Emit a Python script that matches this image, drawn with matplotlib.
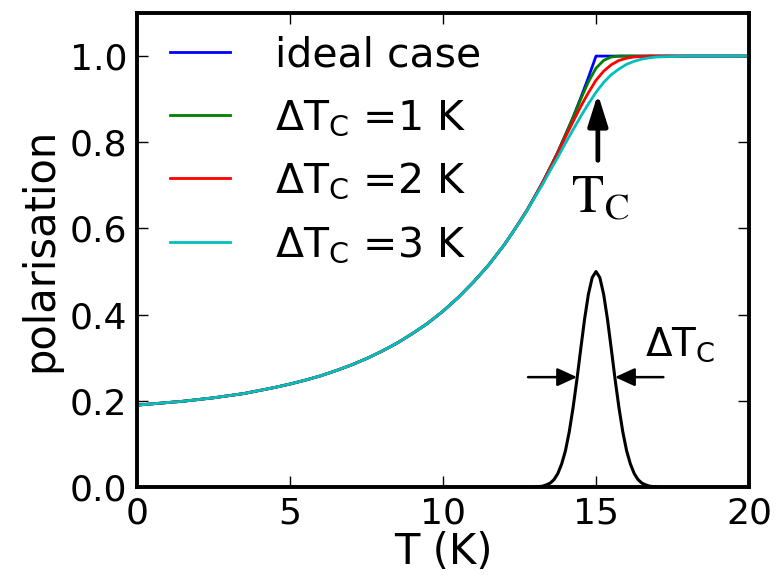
import matplotlib
matplotlib.use('Agg')
import matplotlib.pyplot as plt

# temperature grid (K), finer around the transition
temps = [0, 0.5, 1, 1.5, 2, 2.5, 3, 3.5, 4, 4.5, 5, 5.5, 6, 6.5, 7, 7.5,
         8, 8.5, 9, 9.5, 10, 10.5, 11, 11.5,
         12, 12.25, 12.5, 12.75, 13, 13.25, 13.5, 13.75, 14, 14.25, 14.5,
         14.75, 15, 15.25, 15.5, 15.75, 16, 16.25, 16.5, 16.75, 17,
         17.5, 18, 18.5, 19, 19.5, 20]

low_part = [0.190, 0.193, 0.196, 0.199, 0.203, 0.207, 0.212, 0.217, 0.224,
            0.231, 0.239, 0.248, 0.258, 0.270, 0.283, 0.298, 0.315, 0.334,
            0.356, 0.380, 0.408, 0.440, 0.476, 0.516]

pol_ideal = low_part + [0.562, 0.588, 0.615, 0.643, 0.674, 0.706, 0.741,
                        0.777, 0.817, 0.858, 0.903, 0.950, 1.0, 1.0, 1.0,
                        1.0, 1.0, 1.0, 1.0, 1.0, 1.0] + [1.0] * 6
pol_dt1 = low_part + [0.562, 0.588, 0.615, 0.643, 0.674, 0.706, 0.741,
                      0.777, 0.817, 0.857, 0.900, 0.940, 0.972, 0.990, 0.998,
                      1.0, 1.0, 1.0, 1.0, 1.0, 1.0] + [1.0] * 6
pol_dt2 = low_part + [0.562, 0.588, 0.615, 0.643, 0.674, 0.706, 0.740,
                      0.775, 0.812, 0.848, 0.883, 0.915, 0.944, 0.965, 0.980,
                      0.990, 0.995, 0.998, 0.999, 1.0, 1.0] + [1.0] * 6
pol_dt3 = low_part + [0.562, 0.588, 0.614, 0.642, 0.672, 0.702, 0.734,
                      0.765, 0.798, 0.829, 0.860, 0.889, 0.916, 0.939, 0.957,
                      0.970, 0.981, 0.988, 0.993, 0.996, 0.998] + \
          [0.999, 1.0, 1.0, 1.0, 1.0, 1.0]

series = [pol_ideal, pol_dt1, pol_dt2, pol_dt3]
labels = ['ideal case', r'$\Delta$T$_C$ =1 K', r'$\Delta$T$_C$ =2 K',
          r'$\Delta$T$_C$ =3 K']
colors = ['#0000ff', '#008000', '#ff0000', '#00bfbf']

# sketch of the Tc distribution
gauss_t = [13.0, 13.125, 13.25, 13.375, 13.5, 13.625, 13.75, 13.875, 14.0,
           14.125, 14.25, 14.375, 14.5, 14.625, 14.75, 14.875, 15.0,
           15.125, 15.25, 15.375, 15.5, 15.625, 15.75, 15.875, 16.0,
           16.125, 16.25, 16.375, 16.5, 16.625, 16.75, 16.875, 17.0]
gauss_p = [0.000, 0.001, 0.002, 0.005, 0.009, 0.017, 0.031, 0.053, 0.084,
           0.128, 0.184, 0.249, 0.320, 0.389, 0.447, 0.486, 0.500,
           0.486, 0.447, 0.389, 0.320, 0.249, 0.184, 0.128, 0.084,
           0.053, 0.031, 0.017, 0.009, 0.005, 0.002, 0.001, 0.000]

plt.rcParams['font.family'] = 'DejaVu Sans'
plt.rcParams['mathtext.default'] = 'regular'
plt.rcParams['font.size'] = 26

fig = plt.figure(figsize=(7.8, 5.75), dpi=100)
ax = fig.add_axes([0.1756, 0.153, 0.7847, 0.8244])

for ys, lab, col in zip(series, labels, colors):
    ax.plot(temps, ys, color=col, lw=2.0, label=lab)

ax.plot(gauss_t, gauss_p, color='k', lw=2.2)

# width arrows on the distribution
arrow_kw = dict(arrowstyle='-|>,head_length=1.2,head_width=0.55',
                color='k', lw=1.8, shrinkA=0, shrinkB=0, mutation_scale=10)
ax.annotate('', xy=(14.38, 0.255), xytext=(12.78, 0.255), arrowprops=arrow_kw)
ax.annotate('', xy=(15.62, 0.255), xytext=(17.2, 0.255), arrowprops=arrow_kw)
ax.text(16.6, 0.305, r'$\Delta$T$_C$', fontsize=28, va='baseline', ha='left')

# Tc marker
ax.annotate('', xy=(15.06, 0.912), xytext=(15.06, 0.758),
            arrowprops=dict(arrowstyle='-|>,head_length=1.9,head_width=0.6',
                            color='k', lw=3.4, shrinkA=0, shrinkB=0,
                            mutation_scale=10))
ax.text(15.12, 0.672, r'$\mathrm{T_C}$', fontsize=38, ha='center',
        va='center', math_fontfamily='stix')

ax.set_xlim(0, 20)
ax.set_ylim(0, 1.1)
ax.set_xticks([0, 5, 10, 15, 20])
ax.set_yticks([0.0, 0.2, 0.4, 0.6, 0.8, 1.0])
ax.set_yticklabels(['0.0', '0.2', '0.4', '0.6', '0.8', '1.0'])
ax.tick_params(direction='in', length=8, width=1, top=True, right=True,
               labelsize=26, pad=7)
for sp in ax.spines.values():
    sp.set_linewidth(2.8)

ax.set_xlabel('T (K)', fontsize=30, labelpad=0)
ax.set_ylabel('polarisation', fontsize=30, labelpad=6)

ax.legend(loc='upper left', bbox_to_anchor=(0, 1.021), frameon=False,
          fontsize=29.5, handlelength=1.46, handletextpad=1.1,
          labelspacing=0.55, borderaxespad=0.4, borderpad=0.4)

fig.savefig('out.png', dpi=100)
